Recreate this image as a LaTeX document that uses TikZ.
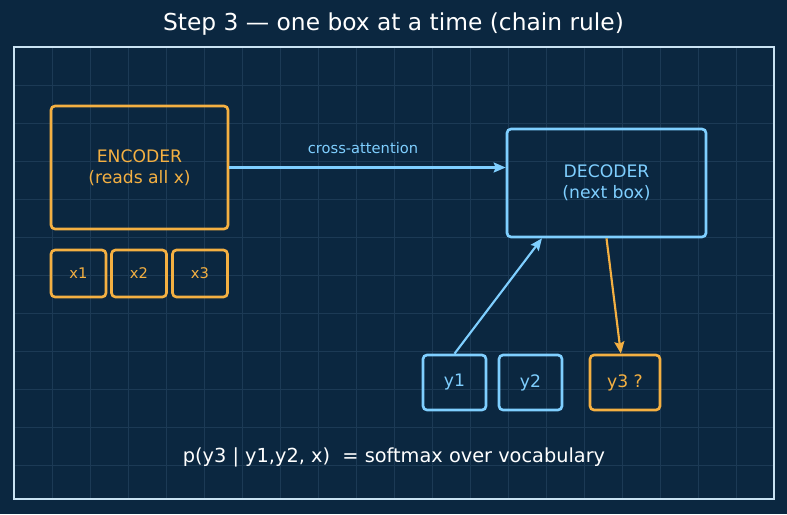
\documentclass[tikz,border=0pt]{standalone}
\usepackage{fontspec}
\setmainfont{DejaVu Sans}
\usetikzlibrary{arrows.meta,calc}
\definecolor{bgc}{HTML}{0B2740}
\definecolor{gridc}{HTML}{1C3A55}
\definecolor{framec}{HTML}{C9E2F2}
\definecolor{orng}{HTML}{F4B042}
\definecolor{blu}{HTML}{7FCFFF}
\tikzset{
  box/.style={draw, rounded corners=3pt, line width=2pt, align=center, inner sep=0pt},
  obox/.style={box, draw=orng, text=orng},
  bbox/.style={box, draw=blu, text=blu},
  conn/.style={line width=1.6pt, -{Stealth[length=9pt,width=7.5pt,inset=1.5pt]}},
}
\begin{document}
\begin{tikzpicture}[x=0.75pt,y=-0.75pt]
\useasboundingbox (0,0) rectangle (787,514);
\fill[bgc] (0,0) rectangle (787,514);
\foreach \i in {1,...,19} {\draw[gridc, line width=0.6pt] (14+38*\i,47) -- (14+38*\i,499);}
\foreach \j in {1,...,11} {\draw[gridc, line width=0.6pt] (14,47+38*\j) -- (774,47+38*\j);}
\draw[framec, line width=1.5pt] (14,47) rectangle (774,499);
\node[text=white, font=\fontsize{17.5pt}{20pt}\selectfont] (title) at (393.5,24) {Step 3 — one box at a time (chain rule)};
\node[obox, minimum width=132.75pt, minimum height=92.25pt, font=\fontsize{12.9pt}{15.5pt}\selectfont] (enc) at (139.5,167.5) {ENCODER\\(reads all x)};
\node[obox, minimum width=41.25pt, minimum height=35.25pt, font=\fontsize{11pt}{13pt}\selectfont] (x1) at (78.5,273.5) {x1};
\node[obox, minimum width=41.25pt, minimum height=35.25pt, font=\fontsize{11pt}{13pt}\selectfont] (x2) at (139,273.5) {x2};
\node[obox, minimum width=41.25pt, minimum height=35.25pt, font=\fontsize{11pt}{13pt}\selectfont] (x3) at (200,273.5) {x3};
\node[bbox, minimum width=149.25pt, minimum height=81pt, font=\fontsize{12.9pt}{15.5pt}\selectfont] (dec) at (606.5,183) {DECODER\\(next box)};
\node[bbox, minimum width=47.25pt, minimum height=41.25pt, font=\fontsize{12.9pt}{15pt}\selectfont] (y1) at (454.5,382.5) {y1};
\node[bbox, minimum width=47.25pt, minimum height=41.25pt, font=\fontsize{12.9pt}{15pt}\selectfont] (y2) at (530.5,382.5) {y2};
\node[obox, minimum width=52.5pt, minimum height=41.25pt, font=\fontsize{12.9pt}{15pt}\selectfont] (y3) at (625,382.5) {y3 ?};
\draw[conn, blu] (enc.east) -- (dec.west |- enc.east);
\node[text=blu, font=\fontsize{11pt}{13pt}\selectfont] (ca) at (363,148) {cross-attention};
\draw[conn, blu] (y1.north) -- ($(dec.south west)!0.18!(dec.south east)$);
\draw[conn, orng] (dec.south) -- ($(y3.north west)!0.443!(y3.north east)$);
\node[text=white, font=\fontsize{14.5pt}{17pt}\selectfont] (formula) at (394,457) {p(y3 | y1,y2, x)\ \ = softmax over vocabulary};
\end{tikzpicture}
\end{document}
